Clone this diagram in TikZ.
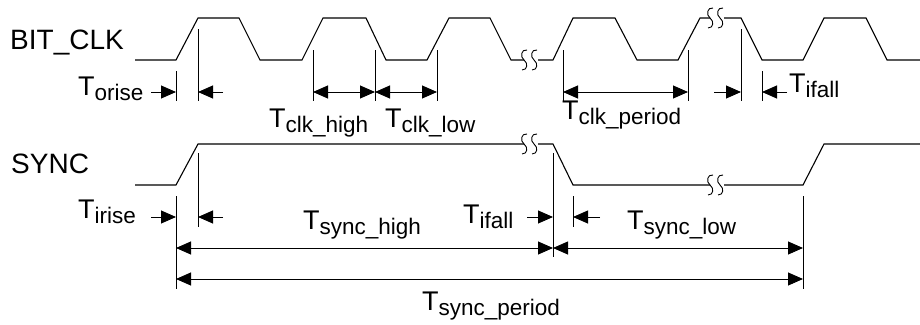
\documentclass[tikz,border=0pt]{standalone}
\usepackage{fontspec}
\setmainfont{Liberation Sans}
\usetikzlibrary{arrows.meta}
\newcommand{\tlab}[1]{{\fontsize{27}{27}\selectfont T}\raisebox{-5pt}{\fontsize{22.5}{22.5}\selectfont #1}}
\begin{document}
\begin{tikzpicture}[x=1pt,y=-1pt,
  wave/.style={line width=1.1pt,line join=miter},
  marker/.style={line width=1pt},
  dim/.style={line width=0.9pt,-{Triangle[length=15pt,width=13pt]}},
  dimboth/.style={line width=0.9pt,{Triangle[length=15pt,width=13pt]}-{Triangle[length=15pt,width=13pt]}},
  sig/.style={anchor=base west,inner sep=0pt,font=\fontsize{28}{28}\selectfont},
  tl/.style={anchor=base west,inner sep=0pt},
  brk/.style={line width=0.9pt}]
\useasboundingbox (0,0) rectangle (920,324);
% signal names
\node[sig] (bitclk) at (10,49) {BIT\_CLK};
\node[sig] (sync) at (11,173) {SYNC};
% BIT_CLK waveform
\draw[wave] (135,60) -- (176,60) -- (198,18) -- (239,18) -- (260,60) -- (302,60) -- (323,18) -- (366,18) -- (386,60) -- (427,60) -- (449,18) -- (490,18) -- (511,60) -- (524,60);
\draw[wave] (538,60) -- (553,60) -- (573,18) -- (615,18) -- (637,60) -- (678,60) -- (700,18) -- (710,18);
\draw[wave] (724,18) -- (741,18) -- (762,60) -- (803,60) -- (824,18) -- (866,18) -- (887,60) -- (920,60);
% SYNC waveform
\draw[wave] (135,185) -- (176,185) -- (198,144) -- (524,144);
\draw[wave] (538,144) -- (553,144) -- (573,185) -- (710,185);
\draw[wave] (724,185) -- (803,185) -- (824,144) -- (920,144);
% break marks
\foreach \bx/\by in {524/60, 710/18, 524/144, 710/185}{
  \foreach \d in {0,10}{
    \draw[brk] ({\bx+\d+3},{\by-10}) .. controls ({\bx+\d-3},{\by-11}) and ({\bx+\d-4},{\by-3}) .. ({\bx+\d},{\by})
               .. controls ({\bx+\d+4},{\by+3}) and ({\bx+\d+4},{\by+10}) .. ({\bx+\d-2},{\by+10});
  }
}
% BIT_CLK markers
\coordinate (c176t) at (176,71);  \coordinate (c176b) at (176,101);
\coordinate (c198t) at (198,29);  \coordinate (c198b) at (198,101);
\coordinate (c313t) at (313,50);  \coordinate (c313b) at (313,101);
\coordinate (c375t) at (375,50);  \coordinate (c375b) at (375,101);
\coordinate (c437t) at (437,50);  \coordinate (c437b) at (437,101);
\coordinate (c563t) at (563,50);  \coordinate (c563b) at (563,101);
\coordinate (c688t) at (688,50);  \coordinate (c688b) at (688,101);
\coordinate (c741t) at (741,29);  \coordinate (c741b) at (741,101);
\coordinate (c762t) at (762,71);  \coordinate (c762b) at (762,101);
\foreach \m in {176,198,313,375,437,563,688,741,762}{\draw[marker] (c\m t) -- (c\m b);}
% BIT_CLK dimension arrows
\coordinate (a151) at (151,92); \coordinate (a176) at (176,92);
\coordinate (a198) at (198,92); \coordinate (a223) at (223,92);
\coordinate (a313) at (313,92); \coordinate (a375) at (375,92); \coordinate (a437) at (437,92);
\coordinate (a563) at (563,92); \coordinate (a688) at (688,92);
\coordinate (a714) at (714,92); \coordinate (a741) at (741,92);
\coordinate (a762) at (762,92); \coordinate (a787) at (787,92);
\draw[dim] (a151) -- (a176);
\draw[dim] (a223) -- (a198);
\draw[dimboth] (a313) -- (a375);
\draw[dimboth] (a375) -- (a437);
\draw[dimboth] (a563) -- (a688);
\draw[dim] (a714) -- (a741);
\draw[dim] (a787) -- (a762);
% BIT_CLK labels
\node[tl] (torise) at (78,95) {\tlab{orise}};
\node[tl] (tclkhigh) at (269,127) {\tlab{clk\_high}};
\node[tl] (tclklow) at (385,127) {\tlab{clk\_low}};
\node[tl] (tclkper) at (562,119) {\tlab{clk\_period}};
\node[tl] (tifall1) at (789,92) {\tlab{ifall}};
% SYNC markers
\coordinate (s176t) at (176,196); \coordinate (s176b) at (176,289);
\coordinate (s198t) at (198,153); \coordinate (s198b) at (198,227);
\coordinate (s553t) at (553,153); \coordinate (s553b) at (553,257);
\coordinate (s573t) at (573,196); \coordinate (s573b) at (573,227);
\coordinate (s803t) at (803,196); \coordinate (s803b) at (803,289);
\foreach \m in {176,198,553,573,803}{\draw[marker] (s\m t) -- (s\m b);}
% SYNC dimension arrows
\coordinate (b151) at (151,217); \coordinate (b176) at (176,217);
\coordinate (b198) at (198,217); \coordinate (b223) at (223,217);
\coordinate (b527) at (527,217); \coordinate (b553) at (553,217);
\coordinate (b573) at (573,217); \coordinate (b600) at (600,217);
\coordinate (h176) at (176,248); \coordinate (h553) at (553,248); \coordinate (h803) at (803,248);
\coordinate (p176) at (176,279); \coordinate (p803) at (803,279);
\draw[dim] (b151) -- (b176);
\draw[dim] (b223) -- (b198);
\draw[dim] (b527) -- (b553);
\draw[dim] (b600) -- (b573);
\draw[dimboth] (h176) -- (h553);
\draw[dimboth] (h553) -- (h803);
\draw[dimboth] (p176) -- (p803);
% SYNC labels
\node[tl] (tirise) at (78,218) {\tlab{irise}};
\node[tl] (tsynchigh) at (303,229) {\tlab{sync\_high}};
\node[tl] (tifall2) at (463,223) {\tlab{ifall}};
\node[tl] (tsynclow) at (627,229) {\tlab{sync\_low}};
\node[tl] (tsyncper) at (422,310) {\tlab{sync\_period}};
\end{tikzpicture}
\end{document}
